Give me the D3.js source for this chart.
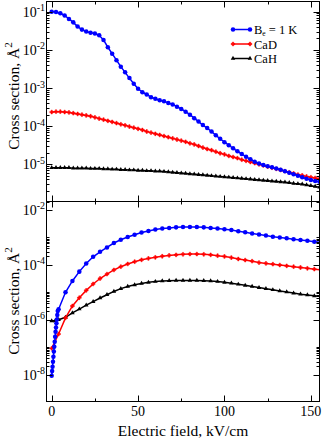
<!DOCTYPE html>
<html>
<head>
<meta charset="utf-8">
<script src="https://cdn.jsdelivr.net/npm/d3@7"></script>
<style>
  body { margin: 0; background: #fff; }
  svg { display: block; font-family: "Liberation Serif", "DejaVu Serif", serif; }
</style>
</head>
<body>
<svg id="chart" width="322" height="438"></svg>
<script>
// ---- data ----
// upper panel: every 2.5 kV/cm
var TOPFIELD = [0, 2.5, 5, 7.5, 10, 12.5, 15, 17.5, 20, 22.5, 25, 27.5, 30, 32.5, 35, 37.5, 40, 42.5, 45, 47.5,
  50, 52.5, 55, 57.5, 60, 62.5, 65, 67.5, 70, 72.5, 75, 77.5, 80, 82.5, 85, 87.5, 90, 92.5, 95, 97.5,
  100, 102.5, 105, 107.5, 110, 112.5, 115, 117.5, 120, 122.5, 125, 127.5, 130, 132.5, 135, 137.5, 140, 142.5, 145, 147.5,
  150, 152.5, 155];
var TOPBE = [1.00e-1, 9.77e-2, 9.12e-2, 7.94e-2, 6.46e-2, 5.25e-2, 4.07e-2, 3.39e-2, 3.02e-2, 2.82e-2,
  2.69e-2, 2.40e-2, 1.82e-2, 1.17e-2, 7.94e-3, 5.37e-3, 3.63e-3, 2.57e-3, 1.82e-3, 1.29e-3,
  9.55e-4, 7.76e-4, 6.76e-4, 5.75e-4, 5.25e-4, 4.79e-4, 4.47e-4, 4.07e-4, 3.72e-4, 3.24e-4,
  2.82e-4, 2.40e-4, 2.00e-4, 1.62e-4, 1.32e-4, 1.07e-4, 8.91e-5, 7.24e-5, 5.75e-5, 4.68e-5,
  3.80e-5, 3.16e-5, 2.63e-5, 2.19e-5, 1.86e-5, 1.58e-5, 1.35e-5, 1.17e-5, 1.05e-5, 9.55e-6,
  8.91e-6, 8.32e-6, 7.76e-6, 7.24e-6, 6.61e-6, 6.03e-6, 5.50e-6, 5.01e-6, 4.57e-6, 4.17e-6,
  3.89e-6, 3.63e-6, 3.47e-6];
var TOPCAD = [2.34e-4, 2.40e-4, 2.40e-4, 2.34e-4, 2.29e-4, 2.19e-4, 2.09e-4, 2.00e-4, 1.91e-4, 1.82e-4,
  1.70e-4, 1.58e-4, 1.48e-4, 1.38e-4, 1.29e-4, 1.20e-4, 1.12e-4, 1.05e-4, 9.77e-5, 9.12e-5,
  8.51e-5, 7.94e-5, 7.24e-5, 6.76e-5, 6.31e-5, 5.89e-5, 5.50e-5, 5.13e-5, 4.79e-5, 4.47e-5,
  4.17e-5, 3.89e-5, 3.55e-5, 3.31e-5, 3.02e-5, 2.75e-5, 2.51e-5, 2.34e-5, 2.14e-5, 1.95e-5,
  1.82e-5, 1.66e-5, 1.55e-5, 1.45e-5, 1.32e-5, 1.23e-5, 1.15e-5, 1.07e-5, 1.00e-5, 9.33e-6,
  8.71e-6, 8.13e-6, 7.59e-6, 7.08e-6, 6.61e-6, 6.17e-6, 5.75e-6, 5.37e-6, 5.13e-6, 4.79e-6,
  4.57e-6, 4.37e-6, 4.17e-6];
var TOPCAH = [8.13e-6, 8.13e-6, 8.13e-6, 8.13e-6, 8.13e-6, 7.94e-6, 7.94e-6, 7.94e-6, 7.94e-6, 7.76e-6,
  7.76e-6, 7.76e-6, 7.59e-6, 7.59e-6, 7.41e-6, 7.41e-6, 7.24e-6, 7.24e-6, 7.08e-6, 7.08e-6,
  6.92e-6, 6.92e-6, 6.76e-6, 6.76e-6, 6.61e-6, 6.61e-6, 6.46e-6, 6.31e-6, 6.17e-6, 6.03e-6,
  5.89e-6, 5.75e-6, 5.62e-6, 5.50e-6, 5.37e-6, 5.25e-6, 5.13e-6, 5.01e-6, 4.90e-6, 4.79e-6,
  4.68e-6, 4.57e-6, 4.47e-6, 4.37e-6, 4.27e-6, 4.17e-6, 4.07e-6, 3.98e-6, 3.89e-6, 3.80e-6,
  3.72e-6, 3.63e-6, 3.55e-6, 3.47e-6, 3.39e-6, 3.31e-6, 3.16e-6, 3.09e-6, 3.02e-6, 2.88e-6,
  2.75e-6, 2.63e-6, 2.51e-6];

// lower panel
var BOTFIELDBE = [0, 0.25, 0.5, 0.75, 1, 1.25, 1.5, 1.75, 2, 2.25, 2.5, 2.75, 3, 3.25, 3.5,
  4, 8, 12, 16, 20, 24, 28, 32, 36, 40, 44, 48, 52, 56, 60, 64, 68, 72, 76, 80, 84, 88, 92, 96,
  100, 104, 108, 112, 116, 120, 124, 128, 132, 136, 140, 144, 148, 152, 156];
var BOTBE = [9.12e-9, 1.35e-8, 1.95e-8, 2.95e-8, 4.47e-8, 6.92e-8, 1.05e-7, 1.58e-7, 2.40e-7, 3.63e-7,
  5.25e-7, 7.41e-7, 1.02e-6, 1.48e-6, 2.09e-6,
  2.40e-6, 1.00e-5, 2.57e-5, 5.62e-5, 1.12e-4, 1.95e-4, 2.95e-4, 4.27e-4, 6.17e-4, 8.13e-4,
  1.02e-3, 1.23e-3, 1.48e-3, 1.70e-3, 1.91e-3, 2.09e-3, 2.19e-3, 2.29e-3, 2.34e-3, 2.34e-3,
  2.34e-3, 2.29e-3, 2.19e-3, 2.09e-3, 1.95e-3, 1.82e-3, 1.66e-3, 1.51e-3, 1.38e-3, 1.26e-3,
  1.15e-3, 1.05e-3, 9.77e-4, 9.12e-4, 8.51e-4, 7.94e-4, 7.41e-4, 6.92e-4, 6.46e-4];
var BOTFIELDCAD = [0, 4, 8, 12, 16, 20, 24, 28, 32, 36, 40, 44, 48, 52, 56, 60, 64, 68, 72, 76,
  80, 84, 88, 92, 96, 100, 104, 108, 112, 116, 120, 124, 128, 132, 136, 140, 144, 148, 152, 156];
var BOTCAD = [9.12e-8, 3.02e-7, 1.17e-6, 3.16e-6, 6.31e-6, 1.17e-5, 2.00e-5, 3.16e-5, 4.57e-5, 6.46e-5,
  8.51e-5, 1.07e-4, 1.29e-4, 1.51e-4, 1.70e-4, 1.86e-4, 2.04e-4, 2.19e-4, 2.29e-4, 2.40e-4,
  2.45e-4, 2.45e-4, 2.40e-4, 2.29e-4, 2.14e-4, 2.00e-4, 1.82e-4, 1.62e-4, 1.48e-4, 1.35e-4,
  1.20e-4, 1.12e-4, 1.05e-4, 9.77e-5, 9.12e-5, 8.51e-5, 7.94e-5, 7.41e-5, 6.92e-5, 6.46e-5];
var BOTFIELDCAH = [0, 2, 4, 8, 12, 16, 20, 24, 28, 32, 36, 40, 44, 48, 52, 56, 60, 64, 68, 72, 76,
  80, 84, 88, 92, 96, 100, 104, 108, 112, 116, 120, 124, 128, 132, 136, 140, 144, 148, 152, 156];
var BOTCAH = [9.12e-7, 9.12e-7, 1.00e-6, 1.23e-6, 1.78e-6, 2.45e-6, 3.39e-6, 4.57e-6, 6.17e-6, 8.13e-6,
  1.07e-5, 1.35e-5, 1.62e-5, 1.86e-5, 2.09e-5, 2.29e-5, 2.45e-5, 2.57e-5, 2.63e-5, 2.69e-5,
  2.69e-5, 2.69e-5, 2.69e-5, 2.63e-5, 2.57e-5, 2.45e-5, 2.29e-5, 2.14e-5, 1.95e-5, 1.78e-5,
  1.62e-5, 1.48e-5, 1.35e-5, 1.23e-5, 1.12e-5, 1.02e-5, 9.33e-6, 8.51e-6, 7.94e-6, 7.41e-6, 6.92e-6];

var LEGENDLABELS = ['CaD', 'CaH'];
var XTICKS = [0, 50, 100, 150];
var XMINORTICKS = [25, 75, 125];
var TOPEXPONENTS = [-1, -2, -3, -4, -5];
var BOTEXPONENTS = [-2, -4, -6, -8];

// ---- layout ----
var PLOT = {'left': 46.5, 'right': 319.5};
var TOPPANEL = {'top': 1.5, 'bottom': 201.5};
var BOTPANEL = {'top': 201.5, 'bottom': 401.5};
var MAJORLEN = 6;
var MINORLEN = 3;

var d3sSVG = d3.select('#chart');
var xScale = d3.scaleLinear().domain([-3, 155]).range([PLOT['left'], PLOT['right']]);
var yTopScale = d3.scaleLog().domain([1.06e-6, 0.185]).range([TOPPANEL['bottom'], TOPPANEL['top']]);
var yBotScale = d3.scaleLog().domain([1.06e-9, 0.02]).range([BOTPANEL['bottom'], BOTPANEL['top']]);

function addClip(sId, jsonPanel)
{
  d3sSVG.append('clipPath').attr('id', sId)
    .append('rect')
    .attr('x', PLOT['left'])
    .attr('y', jsonPanel['top'])
    .attr('width', PLOT['right'] - PLOT['left'])
    .attr('height', jsonPanel['bottom'] - jsonPanel['top']);
}

function markerPath(sSymbol)
{
  if (sSymbol == 'circle') return d3.symbol().type(d3.symbolCircle).size(16)();
  if (sSymbol == 'cross') return d3.symbol().type(d3.symbolCross).size(8)();
  return d3.symbol().type(d3.symbolTriangle).size(9)();
}

function drawSeries(d3sGroup, aField, aValues, yScale, sColor, sSymbol)
{
  var aPoints = aField.map(function(e, i) { return [e, aValues[i]]; });
  var line = d3.line()
    .x(function(d) { return xScale(d[0]); })
    .y(function(d) { return yScale(d[1]); });
  d3sGroup.append('path')
    .datum(aPoints)
    .attr('d', line)
    .attr('fill', 'none')
    .attr('stroke', sColor)
    .attr('stroke-width', 1.5);
  d3sGroup.selectAll(null)
    .data(aPoints)
    .enter()
    .append('path')
    .attr('transform', function(d) { return 'translate(' + xScale(d[0]) + ',' + yScale(d[1]) + ')'; })
    .attr('d', markerPath(sSymbol))
    .attr('fill', sColor)
    .attr('stroke', sColor)
    .attr('stroke-width', sSymbol == 'cross' ? 0.5 : 0);
}

function drawFrameAndTicks(jsonPanel, yScale, aExponents, aMinorValues, aMajorValues)
{
  var d3sAxis = d3sSVG.append('g').attr('stroke', '#000').attr('stroke-width', 1);
  var iTop = jsonPanel['top'];
  var iBottom = jsonPanel['bottom'];

  // x ticks on both edges, pointing inwards
  XTICKS.concat(XMINORTICKS).forEach(function(v) {
    var fX = Math.round(xScale(v)) + 0.5;
    var iLen = XTICKS.indexOf(v) >= 0 ? MAJORLEN : MINORLEN;
    d3sAxis.append('line').attr('x1', fX).attr('x2', fX).attr('y1', iBottom).attr('y2', iBottom - iLen);
    d3sAxis.append('line').attr('x1', fX).attr('x2', fX).attr('y1', iTop).attr('y2', iTop + iLen);
  });

  // y ticks, left and right
  function yTick(v, iLen)
  {
    var fY = Math.round(yScale(v)) + 0.5;
    if (fY < iTop || fY > iBottom) return;
    d3sAxis.append('line').attr('x1', PLOT['left']).attr('x2', PLOT['left'] + iLen).attr('y1', fY).attr('y2', fY);
    d3sAxis.append('line').attr('x1', PLOT['right']).attr('x2', PLOT['right'] - iLen).attr('y1', fY).attr('y2', fY);
  }
  aMajorValues.forEach(function(v) { yTick(v, MAJORLEN); });
  aMinorValues.forEach(function(v) { yTick(v, MINORLEN); });

  d3sAxis.append('rect')
    .attr('x', PLOT['left'])
    .attr('y', iTop)
    .attr('width', PLOT['right'] - PLOT['left'])
    .attr('height', iBottom - iTop)
    .attr('fill', 'none');

  // decade labels
  var d3sLabels = d3sSVG.append('g').style('font-size', '14px');
  aExponents.forEach(function(iExp) {
    var d3sText = d3sLabels.append('text')
      .attr('x', 45)
      .attr('y', yScale(Math.pow(10, iExp)) + 5)
      .attr('text-anchor', 'end');
    d3sText.append('tspan').text('10');
    d3sText.append('tspan').attr('dy', -5.5).style('font-size', '10px').text(String(iExp));
  });
}

function drawYTitle(fYCenter)
{
  var d3sText = d3sSVG.append('text')
    .attr('transform', 'translate(18.5,' + fYCenter + ') rotate(-90)')
    .attr('text-anchor', 'middle')
    .style('font-size', '15.5px');
  d3sText.append('tspan').text('Cross section, Å');
  d3sText.append('tspan').attr('dy', -7).style('font-size', '11px').text('2');
}

function drawLegend()
{
  var aRows = [
    {'color': '#0000ff', 'symbol': 'circle'},
    {'color': '#ff0000', 'symbol': 'cross', 'label': LEGENDLABELS[0]},
    {'color': '#000000', 'symbol': 'triangle', 'label': LEGENDLABELS[1]}
  ];
  var d3sLegend = d3sSVG.append('g').style('font-size', '12.5px');
  aRows.forEach(function(row, i) {
    var fY = 29.5 + i * 14.5;
    d3sLegend.append('line')
      .attr('x1', 233).attr('x2', 250).attr('y1', fY).attr('y2', fY)
      .attr('stroke', row['color']).attr('stroke-width', 1.5);
    [233, 250].forEach(function(fX) {
      d3sLegend.append('path')
        .attr('transform', 'translate(' + fX + ',' + fY + ')')
        .attr('d', markerPath(row['symbol']))
        .attr('fill', row['color'])
        .attr('stroke', row['color'])
        .attr('stroke-width', row['symbol'] == 'cross' ? 0.5 : 0);
    });
    var d3sText = d3sLegend.append('text').attr('x', 254).attr('y', fY + 4.5);
    if (i == 0)
    {
      d3sText.append('tspan').text('B');
      d3sText.append('tspan').attr('dy', 1.5).style('font-size', '7.5px').text('e');
      d3sText.append('tspan').attr('dy', -1.5).text(' = 1 K');
    }
    else
    {
      d3sText.text(row['label']);
    }
  });
}

function minorLogTicks(aDecades, aMultipliers)
{
  var aOut = [];
  aDecades.forEach(function(iExp) {
    aMultipliers.forEach(function(k) { aOut.push(k * Math.pow(10, iExp)); });
  });
  return aOut;
}

function main()
{
  addClip('clipTop', TOPPANEL);
  addClip('clipBot', BOTPANEL);

  var d3sTop = d3sSVG.append('g').attr('clip-path', 'url(#clipTop)');
  drawSeries(d3sTop, TOPFIELD, TOPCAH, yTopScale, '#000000', 'triangle');
  drawSeries(d3sTop, TOPFIELD, TOPCAD, yTopScale, '#ff0000', 'cross');
  drawSeries(d3sTop, TOPFIELD, TOPBE, yTopScale, '#0000ff', 'circle');

  var d3sBot = d3sSVG.append('g').attr('clip-path', 'url(#clipBot)');
  drawSeries(d3sBot, BOTFIELDCAH, BOTCAH, yBotScale, '#000000', 'triangle');
  drawSeries(d3sBot, BOTFIELDCAD, BOTCAD, yBotScale, '#ff0000', 'cross');
  drawSeries(d3sBot, BOTFIELDBE, BOTBE, yBotScale, '#0000ff', 'circle');

  var aTopMajor = TOPEXPONENTS.map(function(e) { return Math.pow(10, e); });
  drawFrameAndTicks(TOPPANEL, yTopScale, TOPEXPONENTS,
    minorLogTicks([-6, -5, -4, -3, -2, -1], [2, 3, 4, 5, 6, 7, 8, 9]), aTopMajor);

  var aBotMajor = BOTEXPONENTS.map(function(e) { return Math.pow(10, e); });
  drawFrameAndTicks(BOTPANEL, yBotScale, BOTEXPONENTS,
    minorLogTicks(BOTEXPONENTS, [2, 3, 4, 5, 6, 7, 8, 9, 10]), aBotMajor);

  // x labels on the lower panel only
  var d3sXLabels = d3sSVG.append('g').style('font-size', '14px').attr('text-anchor', 'middle');
  XTICKS.forEach(function(v) {
    d3sXLabels.append('text').attr('x', xScale(v)).attr('y', 416).text(v);
  });
  d3sSVG.append('text')
    .attr('x', (PLOT['left'] + PLOT['right']) / 2)
    .attr('y', 435.5)
    .attr('text-anchor', 'middle')
    .style('font-size', '15.5px')
    .text('Electric field, kV/cm');

  drawYTitle(96);
  drawYTitle(301);
  drawLegend();
}

main();
</script>
</body>
</html>
